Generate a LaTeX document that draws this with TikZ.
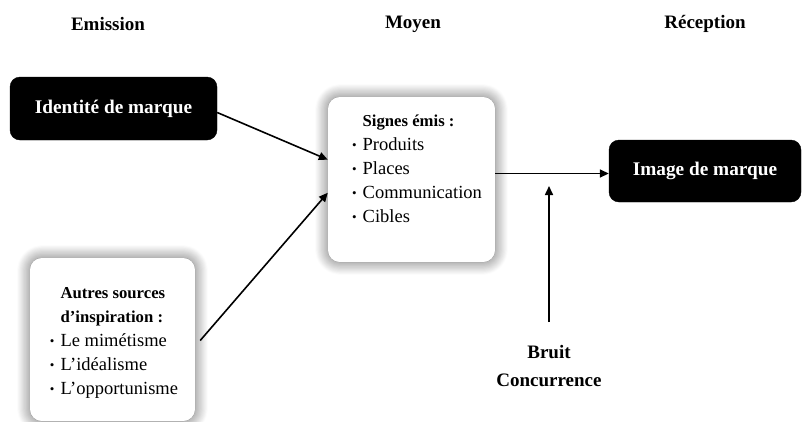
\documentclass[tikz,border=0pt]{standalone}
\usepackage{fontspec}
\setmainfont{Liberation Serif}
\usetikzlibrary{arrows.meta,calc,shadows.blur}

\tikzset{
  header/.style={font=\fontsize{19}{22}\selectfont\bfseries},
  darkbox/.style={draw=black,fill=black,rounded corners=10pt,text=white,
    font=\fontsize{19.3}{22}\selectfont\bfseries,inner sep=0pt},
  lightbox/.style={fill=white,rounded corners=12pt,inner sep=0pt,
    blur shadow={shadow xshift=0pt,shadow yshift=0pt,shadow blur radius=13pt,
      shadow scale=1.0,shadow opacity=60,shadow blur steps=24}},
  listtext/.style={font=\fontsize{18.5}{24}\selectfont,inner sep=0pt,align=left},
  plaintext/.style={font=\fontsize{19}{28}\selectfont\bfseries,align=center},
  flow/.style={line width=1.6pt,-{Triangle[length=9pt,width=8pt]}},
}
\newcommand{\pt}{\raisebox{0.12ex}{\fontsize{13}{13}\selectfont\textbullet}}

\begin{document}
\begin{tikzpicture}[x=1pt,y=-1pt]
\useasboundingbox (0,0) rectangle (803,421);

% column headers
\node[header] (hemis) at (108,24) {Emission};
\node[header] (hmoy)  at (413,24) {Moyen};
\node[header] (hrec)  at (705,24) {Réception};

% boxes
\node[darkbox,minimum width=207pt,minimum height=63pt] (idm) at (113.5,108.5) {Identité de marque};
\node[darkbox,minimum width=192pt,minimum height=62pt] (img) at (705,171) {Image de marque};
\node[lightbox,minimum width=167pt,minimum height=165pt] (sig) at (411.5,179.5) {};
\node[lightbox,minimum width=165pt,minimum height=163pt] (aut) at (112.5,339.5) {};

% box contents
\node[listtext] (sigtxt) at (417,170) {%
  \begin{tabular}{@{}c@{\hspace{6pt}}l@{}}
   & {\fontsize{16.7}{24}\selectfont\bfseries Signes émis :}\\
  \pt & Produits\\
  \pt & Places\\
  \pt & Communication\\
  \pt & Cibles
  \end{tabular}};
\node[listtext] (auttxt) at (114,342) {%
  \begin{tabular}{@{}c@{\hspace{6pt}}l@{}}
   & {\fontsize{16.7}{24}\selectfont\bfseries Autres sources}\\
   & {\fontsize{16.7}{24}\selectfont\bfseries d’inspiration :}\\
  \pt & Le mimétisme\\
  \pt & L’idéalisme\\
  \pt & L’opportunisme
  \end{tabular}};

% noise label
\node[plaintext] (bruit) at (549,366) {Bruit\\Concurrence};

% connectors
\coordinate (sigin1) at ($(sig.north west)!0.38!(sig.south west)$);
\coordinate (sigin2) at ($(sig.north west)!0.58!(sig.south west)$);
\coordinate (sigout) at ($(sig.east)+(0,-6)$);
\coordinate (noisetip) at (549,186);
\coordinate (noisestart) at (549,322);

\draw[flow] ($(idm.east)+(0,4)$) -- (sigin1);
\draw[flow] ($(aut.east)+(5,1)$) -- (sigin2);
\draw[flow] (sigout) -- (sigout -| img.west);
\draw[flow] (noisestart) -- (noisetip);
\end{tikzpicture}
\end{document}
